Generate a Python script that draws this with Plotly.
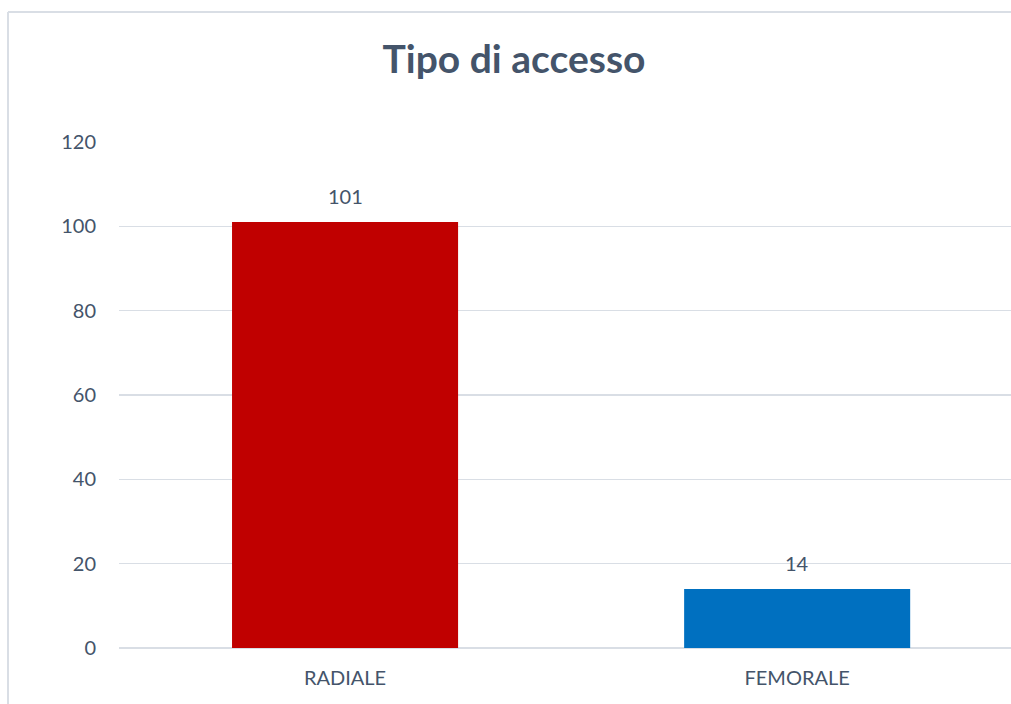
import plotly.graph_objects as go

categories = ["RADIALE", "FEMORALE"]
values = [101, 14]
colors = ["#C00000", "#0070C0"]
y_ticks = [0, 20, 40, 60, 80, 100, 120]

text_color = "#44546A"
grid_color = "#D9DEE5"

fig = go.Figure()
fig.add_trace(go.Bar(
    x=categories,
    y=values,
    marker=dict(color=colors, line=dict(width=0)),
    width=0.5,
    hoverinfo="skip",
))

for c, v in zip(categories, values):
    fig.add_annotation(
        x=c, y=v, text=str(v), showarrow=False,
        yanchor="bottom", yshift=12,
        font=dict(family="Lato", size=20, color=text_color),
    )

frame_left = -111 / 892
frame_top = 636 / 506

fig.update_layout(
    width=1011, height=704,
    margin=dict(l=119, r=0, t=142, b=56),
    paper_bgcolor="white", plot_bgcolor="white",
    showlegend=False,
    title=dict(
        text="<b>Tipo di accesso</b>",
        x=514 / 1011, xref="container", xanchor="center",
        y=1 - 59 / 704, yref="container", yanchor="middle",
        font=dict(family="Lato", size=39, color=text_color),
    ),
    font=dict(family="Lato", size=20, color=text_color),
    shapes=[
        dict(type="line", xref="paper", yref="paper",
             x0=frame_left, x1=frame_left, y0=-0.3, y1=frame_top,
             line=dict(color=grid_color, width=2), layer="below"),
        dict(type="line", xref="paper", yref="paper",
             x0=frame_left, x1=1.2, y0=frame_top, y1=frame_top,
             line=dict(color=grid_color, width=2), layer="below"),
    ],
)

fig.update_xaxes(
    range=[-0.5, 1.473],
    showgrid=False, showline=False, zeroline=False,
    ticks="", ticklabelstandoff=16,
    tickfont=dict(family="Lato", size=20, color=text_color),
)
fig.update_yaxes(
    range=[0, 120],
    tickvals=y_ticks,
    showgrid=True, gridcolor=grid_color, gridwidth=1.5,
    zeroline=True, zerolinecolor=grid_color, zerolinewidth=1.5,
    showline=False, ticks="", ticklabelstandoff=22,
    tickfont=dict(family="Lato", size=20, color=text_color),
)

fig.write_html(
    "out.html",
    config={"displayModeBar": False, "staticPlot": True},
    post_script="document.body.style.margin='0';document.body.style.overflow='hidden';",
)
